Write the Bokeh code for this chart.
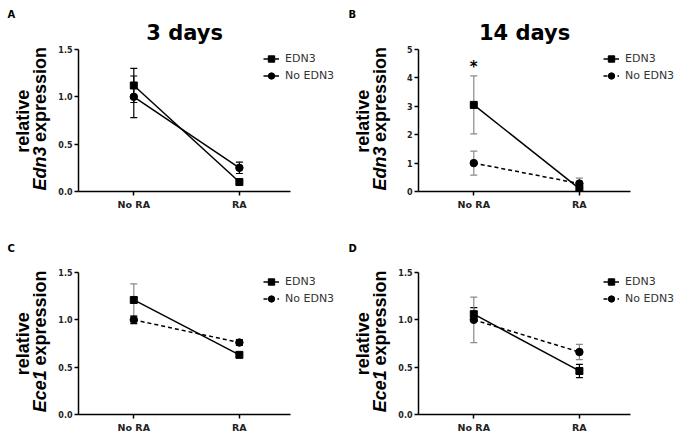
from math import pi
from bokeh.plotting import figure
from bokeh.models import (Range1d, FixedTicker, Whisker, TeeHead, ColumnDataSource,
                          Label, Legend, LegendItem, NumeralTickFormatter)
from bokeh.layouts import gridplot
from bokeh.embed import file_html
from bokeh.resources import INLINE

# ---------------- data ----------------
categories = ["No RA", "RA"]
cat_pos = [0, 1]
legend_labels = ["EDN3", "No EDN3"]

# Panel A: 3 days, Edn3
a_edn3_mean = [1.12, 0.10]
a_edn3_sem = [0.18, 0.02]
a_none_mean = [1.00, 0.25]
a_none_sem = [0.22, 0.06]
# Panel B: 14 days, Edn3
b_edn3_mean = [3.05, 0.10]
b_edn3_sem = [1.02, 0.06]
b_none_mean = [1.00, 0.28]
b_none_sem = [0.42, 0.19]
# Panel C: Ece1
c_edn3_mean = [1.21, 0.63]
c_edn3_sem = [0.17, 0.01]
c_none_mean = [1.00, 0.76]
c_none_sem = [0.04, 0.03]
# Panel D: Ece1
d_edn3_mean = [1.06, 0.46]
d_edn3_sem = [0.07, 0.07]
d_none_mean = [1.00, 0.66]
d_none_sem = [0.24, 0.08]

ticks_small = [0, 0.5, 1.0, 1.5]
ticks_big = [0, 1, 2, 3, 4, 5]

# ---------------- styling / geometry (page pixels) ----------------
SANS = "DejaVu Sans"
ARIAL = "Liberation Sans"
GREY = "#8a8a8a"
PPU_X = 106.0      # px per category step
AXIS_H = 142.0     # px height of y axis line
YAX_W = 22         # left border holding y tick labels
ROT_CORR = 14      # vertical correction for rotated labels


def label_fig(page_left, page_right, page_top, page_bottom, letter, letter_xy,
              frame_left, frame_bottom, gene, gene_w):
    w = page_right - page_left
    h = page_bottom - page_top
    p = figure(width=w, height=h, x_range=Range1d(page_left, page_right),
               y_range=Range1d(page_bottom, page_top),
               x_axis_type=None, y_axis_type=None,
               output_backend="svg", toolbar_location=None,
               min_border_left=0, min_border_right=0, min_border_top=0, min_border_bottom=0)
    p.outline_line_color = None
    p.grid.visible = False
    p.add_layout(Label(x=letter_xy[0], y=letter_xy[1], text=letter,
                       text_font=SANS, text_font_style="bold", text_font_size="10px",
                       text_align="left", text_baseline="alphabetic", text_color="black"))
    cy = frame_bottom - AXIS_H / 2 + ROT_CORR
    p.add_layout(Label(x=frame_left - 55, y=cy, text="relative", angle=pi / 2,
                       text_font=ARIAL, text_font_style="bold", text_font_size="18px",
                       text_align="center", text_baseline="middle", text_color="black"))
    total = gene_w + 5 + 95
    pivot = cy + total / 2 - gene_w
    p.add_layout(Label(x=frame_left - 38, y=pivot, text=gene, angle=pi / 2,
                       text_font=ARIAL, text_font_style="bold italic", text_font_size="18px",
                       text_align="right", text_baseline="middle", text_color="black"))
    p.add_layout(Label(x=frame_left - 38, y=pivot - 5, text="expression", angle=pi / 2,
                       text_font=ARIAL, text_font_style="bold", text_font_size="18px",
                       text_align="left", text_baseline="middle", text_color="black"))
    return p


def plot_fig(page_left, page_right, page_top, page_bottom, frame_bottom,
             title, edn3_m, edn3_s, none_m, none_s, yticks, yfmt, dashed, err_cols,
             star=False):
    frame_left = page_left + YAX_W
    yend = yticks[-1]
    ppu_y = AXIS_H / yend
    x_zero_px = frame_left + 55.5

    def to_x(px):
        return (px - x_zero_px) / PPU_X

    def to_y(py):
        return (frame_bottom - py) / ppu_y

    w = page_right - page_left
    h = page_bottom - page_top
    X0, X1 = to_x(frame_left), to_x(page_right)
    Y1 = to_y(page_top)
    p = figure(width=w, height=h, x_range=Range1d(X0, X1), y_range=Range1d(0, Y1),
               output_backend="svg", toolbar_location=None,
               min_border_left=YAX_W, min_border_right=0, min_border_top=0,
               min_border_bottom=page_bottom - frame_bottom)
    p.outline_line_color = None
    p.grid.visible = False
    p.background_fill_color = "white"
    p.border_fill_color = "white"

    for ax in (p.xaxis[0], p.yaxis[0]):
        ax.axis_line_color = "black"
        ax.axis_line_width = 1.5
        ax.major_tick_line_color = "black"
        ax.major_tick_line_width = 1.5
        ax.major_tick_in = 0
        ax.major_tick_out = 4
        ax.minor_tick_line_color = None
        ax.major_label_text_font = SANS
        ax.major_label_text_font_style = "bold"
        ax.major_label_text_color = "#222222"
    p.xaxis.ticker = FixedTicker(ticks=cat_pos)
    p.xaxis.bounds = (X0, to_x(frame_left + 213))
    p.xaxis.major_label_overrides = {c: lab for c, lab in zip(cat_pos, categories)}
    p.xaxis.major_label_text_font_size = "9.5px"
    p.xaxis.major_label_standoff = 3
    p.yaxis.ticker = FixedTicker(ticks=yticks)
    p.yaxis.bounds = (0, yend)
    p.yaxis.formatter = NumeralTickFormatter(format=yfmt)
    p.yaxis.major_label_text_font_size = "8px"
    p.yaxis.major_label_standoff = 2

    for m, s, col in ((edn3_m, edn3_s, err_cols[0]), (none_m, none_s, err_cols[1])):
        src = ColumnDataSource(dict(x=cat_pos,
                                    upper=[a + b for a, b in zip(m, s)],
                                    lower=[a - b for a, b in zip(m, s)]))
        p.add_layout(Whisker(source=src, base="x", upper="upper", lower="lower",
                             line_color=col, line_width=1.2,
                             upper_head=TeeHead(size=7, line_color=col, line_width=1.2),
                             lower_head=TeeHead(size=7, line_color=col, line_width=1.2)))

    l1 = p.line(cat_pos, edn3_m, line_color="black", line_width=1.5)
    s1 = p.scatter(cat_pos, edn3_m, marker="square", size=7, color="black")
    l2 = p.line(cat_pos, none_m, line_color="black", line_width=1.5,
                line_dash="4 3" if dashed else "solid")
    s2 = p.scatter(cat_pos, none_m, marker="circle", size=7.5, color="black")

    leg = Legend(items=[LegendItem(label=legend_labels[0], renderers=[l1, s1]),
                        LegendItem(label=legend_labels[1], renderers=[l2, s2])],
                 location=(185, AXIS_H - 1 - 34), orientation="vertical",
                 glyph_width=16, glyph_height=17, label_height=17, spacing=0,
                 padding=0, margin=0, label_standoff=6,
                 border_line_color=None, background_fill_alpha=0,
                 label_text_font=SANS, label_text_font_size="11px",
                 label_text_color="#333333")
    p.add_layout(leg, "center")

    if title:
        p.add_layout(Label(x=to_x(frame_left + 106.5), y=to_y(32), text=title,
                           text_font=SANS, text_font_style="bold", text_font_size="21px",
                           text_align="center", text_baseline="alphabetic",
                           text_color="black"))
    if star:
        p.add_layout(Label(x=cat_pos[0], y=to_y(66.7), text="*",
                           text_font=SANS, text_font_style="bold", text_font_size="15px",
                           text_align="center", text_baseline="alphabetic",
                           text_color="black"))
    return p


# rows / columns (page coordinates, layout placed at the page origin)
TOP0, TOP1, BOT1 = 0, 212, 435
FB_TOP, FB_BOT = 191, 414           # x-axis (frame bottom) page y
L0, MID, R1 = 0, 340, 683
FL_L, FL_R = 77, 417                # y-axis page x

la = label_fig(L0, FL_L - YAX_W, TOP0, TOP1, "A", (7, 16), FL_L, FB_TOP, "Edn3", 44)
pa = plot_fig(FL_L - YAX_W, MID, TOP0, TOP1, FB_TOP, "3 days",
              a_edn3_mean, a_edn3_sem, a_none_mean, a_none_sem,
              ticks_small, "0.0", False, ("black", "black"))
lb = label_fig(MID, FL_R - YAX_W, TOP0, TOP1, "B", (348, 16), FL_R, FB_TOP, "Edn3", 44)
pb = plot_fig(FL_R - YAX_W, R1, TOP0, TOP1, FB_TOP, "14 days",
              b_edn3_mean, b_edn3_sem, b_none_mean, b_none_sem,
              ticks_big, "0", True, (GREY, GREY), star=True)
lc = label_fig(L0, FL_L - YAX_W, TOP1, BOT1, "C", (7, 252), FL_L, FB_BOT, "Ece1", 42)
pc = plot_fig(FL_L - YAX_W, MID, TOP1, BOT1, FB_BOT, None,
              c_edn3_mean, c_edn3_sem, c_none_mean, c_none_sem,
              ticks_small, "0.0", True, (GREY, "black"))
ld = label_fig(MID, FL_R - YAX_W, TOP1, BOT1, "D", (348, 252), FL_R, FB_BOT, "Ece1", 42)
pd_ = plot_fig(FL_R - YAX_W, R1, TOP1, BOT1, FB_BOT, None,
               d_edn3_mean, d_edn3_sem, d_none_mean, d_none_sem,
               ticks_small, "0.0", True, ("black", GREY))

grid = gridplot([[la, pa, lb, pb], [lc, pc, ld, pd_]], toolbar_location=None)
open("out.html", "w").write(file_html(grid, INLINE))
